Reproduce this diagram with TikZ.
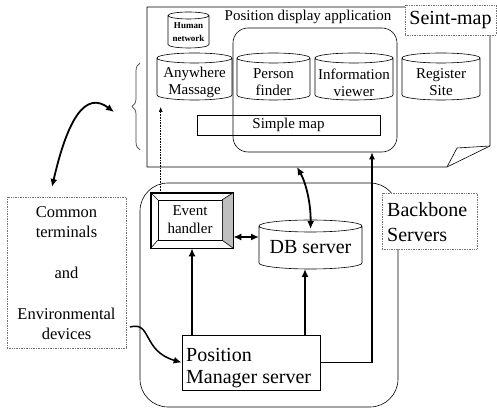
\documentclass[tikz,border=0pt]{standalone}
\usepackage{fontspec}
\setmainfont{Liberation Serif}
\usetikzlibrary{arrows.meta,decorations.pathreplacing,calc}

% cylinder outline around a fixed-size node, with a separate text node
% #1 name, #2 x, #3 y, #4 width, #5 height, #6 cap radius, #7 text shift, #8 text, #9 text style
\newcommand\cylbox[9]{%
  \node[cylbody, minimum width=#4pt, minimum height=#5pt] (#1) at (#2,#3) {};
  \draw[outline] ([yshift=-#6pt]#1.north west) -- ([yshift=#6pt]#1.south west)
     arc[start angle=180, end angle=360, x radius=#4pt/2, y radius=#6pt]
     -- ([yshift=-#6pt]#1.north east)
     arc[start angle=0, end angle=180, x radius=#4pt/2, y radius=#6pt]
     arc[start angle=180, end angle=360, x radius=#4pt/2, y radius=#6pt];
  \node[#9] (#1-text) at ([yshift=#7pt]#1.center) {#8};
}

\begin{document}
\begin{tikzpicture}[x=1pt,y=1pt,
  outline/.style={draw=black, line width=0.6pt},
  cylbody/.style={inner sep=0pt, outer sep=0pt, draw=none},
  dotbox/.style={draw=black!55, densely dotted, line width=0.7pt, fill=white},
  arr/.style={line width=1.8pt, -{Latex[length=8pt,width=7pt]}},
  darr/.style={line width=1.8pt, {Latex[length=8pt,width=7pt]}-{Latex[length=8pt,width=7pt]}},
  medarr/.style={line width=1.3pt, -{Latex[length=7pt,width=6pt]}},
  thinarr/.style={line width=0.6pt, densely dotted, -{Latex[length=5pt,width=4pt]}},
  lbl/.style={font=\fontsize{15}{17}\selectfont, align=center, inner sep=0pt},
  tiny/.style={font=\fontsize{9}{13}\selectfont\bfseries, align=center, inner sep=0pt},
  big/.style={font=\fontsize{20}{25}\selectfont, inner sep=0pt},
]
\useasboundingbox (0,0) rectangle (497,409);

% ---------- Seint-map page with folded corner ----------
\draw[outline] (405,402) -- (147,402) -- (147,242) -- (447,242) -- (490,263) -- (490,374);
\draw[outline] (447,242) -- (457,261) -- (490,263);
\node[dotbox, minimum width=91pt, minimum height=30pt, inner sep=0pt] (seint) at (450.5,389) {};
\node[big] (seinttext) at (seint.center) {Seint-map};

\node[lbl] (apptitle) at (308,392) {Position display application};

% application frame
\node[outline, rounded corners=15pt, minimum width=164pt, minimum height=124pt, inner sep=0pt] (app) at (315,319) {};

% databases of the page
\cylbox{human}{188.5}{379}{41}{36}{3.5}{-2}{Human\\network}{tiny}
\cylbox{anyw}{194.5}{332.5}{75}{47}{5}{-6}{Anywhere\\Massage}{lbl}
\cylbox{person}{273.5}{332.5}{73}{47}{5}{-6}{Person\\finder}{lbl}
\cylbox{info}{354}{332.5}{78}{47}{5}{-6}{Information\\viewer}{lbl}
\cylbox{reg}{441}{332.5}{78}{47}{5}{-6}{Register\\Site}{lbl}

\node[outline, minimum width=183pt, minimum height=20pt, inner sep=0pt] (smap) at (288.5,284) {};
\node[lbl] (smaptext) at (smap.center) {Simple map};

% brace grouping the page
\draw[draw=black!75, line width=0.7pt, decorate, decoration={brace, amplitude=8pt}]
  (140,259) -- (140,346);
\coordinate (bracetip) at (114,297);

% ---------- terminals ----------
\node[dotbox, minimum width=119pt, minimum height=151pt, inner sep=0pt] (term) at (66.5,136.5) {};
\node[font=\fontsize{16.5}{20}\selectfont, align=center, inner sep=0pt] (termtext) at (66.5,136)
  {Common\\terminals\\[21pt]and\\[21pt]Environmental\\devices};

% ---------- backbone servers ----------
\draw[outline] (140,2) [rounded corners=28pt] rectangle (398,226);
\node[dotbox, minimum width=95pt, minimum height=56pt, inner sep=0pt] (bb) at (429.5,188) {};
\node[big, align=left, anchor=west] (bbtext) at (387,187) {Backbone\\Servers};

% event handler (bevelled button)
\node[outline, fill=white, minimum width=82pt, minimum height=55pt, inner sep=0pt] (eh) at (192,188.5) {};
\node[outline, minimum width=64pt, minimum height=40pt, inner sep=0pt] (ehin) at (190,189) {};
\fill[black!25] (eh.north east) -- (ehin.north east) -- (ehin.south east) -- (eh.south east) -- cycle;
\draw[outline] (eh.north east) -- (ehin.north east) -- (ehin.south east) -- (eh.south east);
\draw[outline] (eh.north west) -- (ehin.north west);
\draw[outline] (eh.south west) -- (ehin.south west);
\draw[outline] (eh.north east) rectangle (eh.south west);
\node[lbl, font=\fontsize{15}{18}\selectfont] (ehtext) at (ehin.center) {Event\\handler};

\cylbox{db}{310.5}{164.5}{103}{49}{6}{-3}{DB server}{big}

\node[outline, minimum width=138pt, minimum height=55pt, inner sep=0pt] (pm) at (251,46.5) {};
\node[big, align=left, anchor=west, font=\fontsize{20}{22}\selectfont] (pmtext) at (186,40.5) {Position\\Manager server};

% ---------- connectors ----------
\draw[arr] (eh.south |- pm.north) -- (eh.south);
\draw[arr] ([xshift=-5.5pt]db.south |- pm.north) -- ([xshift=-5.5pt]db.south);
\draw[medarr] (pm.east) -| ([xshift=57pt]app.south);
\draw[darr] ([yshift=-16.5pt]eh.east) -- ([yshift=-16.5pt]eh.east -| db.west);
\coordinate (pagebot) at (297,242);
\draw[darr] (pagebot) .. controls (306,226) and (311,205) .. ([yshift=-9pt]db.north);
\coordinate (dstart) at ([xshift=10pt]eh.north west);
\draw[thinarr, shorten >=7pt] (dstart) -- (dstart |- anyw.south);
\coordinate (termtop) at (52,222);
\draw[darr] (termtop) .. controls (68,292) and (86,318) .. (bracetip);
\coordinate (termout) at (130,82);
\draw[arr, line width=1.5pt] (termout) .. controls (152,88) and (142,58) .. (pm.west);
\end{tikzpicture}
\end{document}
